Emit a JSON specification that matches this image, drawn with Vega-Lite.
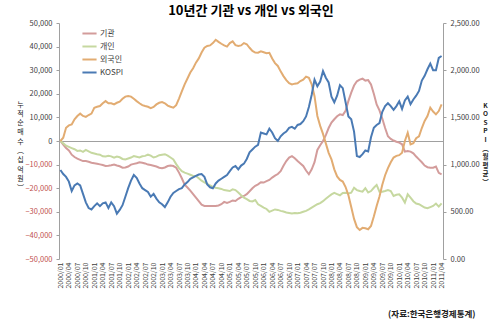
{
  "$schema": "https://vega.github.io/schema/vega-lite/v6.json",
  "width": 384,
  "height": 236,
  "autosize": "none",
  "padding": {"left": 59, "top": 23, "right": 57, "bottom": 68},
  "background": "white",
  "config": {
    "font": "Noto Sans CJK KR",
    "view": {"stroke": null},
    "axisLeft": {"titleAngle": 0},
    "axisRight": {"titleAngle": 0},
    "axisY": {"titleAngle": 0}
  },
  "title": {
    "text": "10년간 기관 vs 개인 vs 외국인",
    "fontSize": 13,
    "fontWeight": "bold",
    "color": "#000000",
    "anchor": "middle",
    "offset": 1
  },
  "data": {
    "values": [
      {"month":"2000/01","기관":0,"개인":0,"외국인":0,"KOSPI":943},
      {"month":"2000/02","기관":-1500,"개인":-1000,"외국인":1400,"KOSPI":900},
      {"month":"2000/03","기관":-3000,"개인":-2000,"외국인":5600,"KOSPI":870},
      {"month":"2000/04","기관":-4000,"개인":-2500,"외국인":6600,"KOSPI":820},
      {"month":"2000/05","기관":-5800,"개인":-3000,"외국인":7000,"KOSPI":720},
      {"month":"2000/06","기관":-6800,"개인":-3500,"외국인":9200,"KOSPI":780},
      {"month":"2000/07","기관":-7500,"개인":-4200,"외국인":10600,"KOSPI":800},
      {"month":"2000/08","기관":-8000,"개인":-4000,"외국인":11600,"KOSPI":780},
      {"month":"2000/09","기관":-8500,"개인":-4600,"외국인":10600,"KOSPI":690},
      {"month":"2000/10","기관":-8500,"개인":-3800,"외국인":10200,"KOSPI":600},
      {"month":"2000/11","기관":-8800,"개인":-4400,"외국인":11000,"KOSPI":540},
      {"month":"2000/12","기관":-9200,"개인":-5000,"외국인":11600,"KOSPI":525},
      {"month":"2001/01","기관":-9400,"개인":-5300,"외국인":14100,"KOSPI":560},
      {"month":"2001/02","기관":-9600,"개인":-5600,"외국인":14500,"KOSPI":590},
      {"month":"2001/03","기관":-9900,"개인":-5800,"외국인":14800,"KOSPI":560},
      {"month":"2001/04","기관":-10200,"개인":-6500,"외국인":16000,"KOSPI":590},
      {"month":"2001/05","기관":-10600,"개인":-6600,"외국인":16900,"KOSPI":600},
      {"month":"2001/06","기관":-10500,"개인":-6300,"외국인":16000,"KOSPI":540},
      {"month":"2001/07","기관":-10300,"개인":-6500,"외국인":16000,"KOSPI":600},
      {"month":"2001/08","기관":-10000,"개인":-7100,"외국인":15500,"KOSPI":560},
      {"month":"2001/09","기관":-10400,"개인":-6600,"외국인":16200,"KOSPI":480},
      {"month":"2001/10","기관":-10700,"개인":-6900,"외국인":16700,"KOSPI":520},
      {"month":"2001/11","기관":-11300,"개인":-7600,"외국인":17900,"KOSPI":570},
      {"month":"2001/12","기관":-11200,"개인":-7800,"외국인":18800,"KOSPI":660},
      {"month":"2002/01","기관":-10800,"개인":-7400,"외국인":19100,"KOSPI":750},
      {"month":"2002/02","기관":-10000,"개인":-7000,"외국인":18800,"KOSPI":830},
      {"month":"2002/03","기관":-9700,"개인":-6400,"외국인":17900,"KOSPI":890},
      {"month":"2002/04","기관":-9400,"개인":-6700,"외국인":16900,"KOSPI":860},
      {"month":"2002/05","기관":-9000,"개인":-7000,"외국인":16000,"KOSPI":800},
      {"month":"2002/06","기관":-9200,"개인":-6500,"외국인":15200,"KOSPI":750},
      {"month":"2002/07","기관":-9500,"개인":-6300,"외국인":14800,"KOSPI":730},
      {"month":"2002/08","기관":-10000,"개인":-5800,"외국인":14500,"KOSPI":710},
      {"month":"2002/09","기관":-10200,"개인":-6200,"외국인":13900,"KOSPI":660},
      {"month":"2002/10","기관":-10500,"개인":-7000,"외국인":14400,"KOSPI":690},
      {"month":"2002/11","기관":-10800,"개인":-6600,"외국인":15500,"KOSPI":640},
      {"month":"2002/12","기관":-11300,"개인":-6000,"외국인":16200,"KOSPI":600},
      {"month":"2003/01","기관":-11500,"개인":-5800,"외국인":16500,"KOSPI":580},
      {"month":"2003/02","기관":-11200,"개인":-5600,"외국인":16000,"KOSPI":550},
      {"month":"2003/03","기관":-10600,"개인":-6200,"외국인":15000,"KOSPI":600},
      {"month":"2003/04","기관":-10400,"개인":-7000,"외국인":14500,"KOSPI":660},
      {"month":"2003/05","기관":-10600,"개인":-7800,"외국인":14100,"KOSPI":700},
      {"month":"2003/06","기관":-11300,"개인":-9800,"외국인":15200,"KOSPI":720},
      {"month":"2003/07","기관":-13400,"개인":-11500,"외국인":18000,"KOSPI":740},
      {"month":"2003/08","기관":-15800,"개인":-12800,"외국인":21000,"KOSPI":750},
      {"month":"2003/09","기관":-18500,"개인":-13400,"외국인":24000,"KOSPI":790},
      {"month":"2003/10","기관":-19700,"개인":-13800,"외국인":26500,"KOSPI":815},
      {"month":"2003/11","기관":-21000,"개인":-14300,"외국인":29000,"KOSPI":850},
      {"month":"2003/12","기관":-22500,"개인":-14800,"외국인":30800,"KOSPI":865},
      {"month":"2004/01","기관":-24000,"개인":-14800,"외국인":33200,"KOSPI":880},
      {"month":"2004/02","기관":-25500,"개인":-15800,"외국인":35000,"KOSPI":895},
      {"month":"2004/03","기관":-27000,"개인":-16800,"외국인":37500,"KOSPI":900},
      {"month":"2004/04","기관":-27500,"개인":-17500,"외국인":39500,"KOSPI":870},
      {"month":"2004/05","기관":-27500,"개인":-18200,"외국인":40300,"KOSPI":790},
      {"month":"2004/06","기관":-27500,"개인":-18800,"외국인":40500,"KOSPI":760},
      {"month":"2004/07","기관":-27500,"개인":-19400,"외국인":41500,"KOSPI":750},
      {"month":"2004/08","기관":-27500,"개인":-19800,"외국인":42900,"KOSPI":800},
      {"month":"2004/09","기관":-27300,"개인":-20000,"외국인":42000,"KOSPI":830},
      {"month":"2004/10","기관":-26800,"개인":-20300,"외국인":41200,"KOSPI":850},
      {"month":"2004/11","기관":-25800,"개인":-20800,"외국인":40500,"KOSPI":870},
      {"month":"2004/12","기관":-26200,"개인":-21000,"외국인":40000,"KOSPI":890},
      {"month":"2005/01","기관":-25800,"개인":-21200,"외국인":41500,"KOSPI":930},
      {"month":"2005/02","기관":-25200,"개인":-20500,"외국인":42200,"KOSPI":970},
      {"month":"2005/03","기관":-25400,"개인":-20800,"외국인":40600,"KOSPI":985},
      {"month":"2005/04","기관":-24500,"개인":-21800,"외국인":40300,"KOSPI":950},
      {"month":"2005/05","기관":-23800,"개인":-23000,"외국인":40500,"KOSPI":990},
      {"month":"2005/06","기관":-23300,"개인":-24000,"외국인":41500,"KOSPI":1010},
      {"month":"2005/07","기관":-22500,"개인":-24600,"외국인":41000,"KOSPI":1060},
      {"month":"2005/08","기관":-21300,"개인":-25400,"외국인":39500,"KOSPI":1130},
      {"month":"2005/09","기관":-20000,"개인":-25600,"외국인":38200,"KOSPI":1160},
      {"month":"2005/10","기관":-19000,"개인":-25000,"외국인":37500,"KOSPI":1190},
      {"month":"2005/11","기관":-18400,"개인":-26800,"외국인":37400,"KOSPI":1210},
      {"month":"2005/12","기관":-17500,"개인":-27500,"외국인":38000,"KOSPI":1340},
      {"month":"2006/01","기관":-17600,"개인":-28200,"외국인":37600,"KOSPI":1330},
      {"month":"2006/02","기관":-17000,"개인":-28800,"외국인":37200,"KOSPI":1320},
      {"month":"2006/03","기관":-16500,"개인":-30000,"외국인":37400,"KOSPI":1380},
      {"month":"2006/04","기관":-15500,"개인":-29500,"외국인":35000,"KOSPI":1340},
      {"month":"2006/05","기관":-14700,"개인":-29000,"외국인":33000,"KOSPI":1280},
      {"month":"2006/06","기관":-14000,"개인":-29200,"외국인":31800,"KOSPI":1250},
      {"month":"2006/07","기관":-12800,"개인":-29600,"외국인":29500,"KOSPI":1300},
      {"month":"2006/08","기관":-10500,"개인":-29900,"외국인":27500,"KOSPI":1330},
      {"month":"2006/09","기관":-8500,"개인":-30300,"외국인":25800,"KOSPI":1350},
      {"month":"2006/10","기관":-7000,"개인":-30500,"외국인":24500,"KOSPI":1390},
      {"month":"2006/11","기관":-6400,"개인":-30700,"외국인":24000,"KOSPI":1400},
      {"month":"2006/12","기관":-7300,"개인":-30500,"외국인":24300,"KOSPI":1380},
      {"month":"2007/01","기관":-8500,"개인":-30600,"외국인":24500,"KOSPI":1420},
      {"month":"2007/02","기관":-9500,"개인":-30400,"외국인":25400,"KOSPI":1430},
      {"month":"2007/03","기관":-10600,"개인":-30000,"외국인":26000,"KOSPI":1460},
      {"month":"2007/04","기관":-12500,"개인":-29600,"외국인":27300,"KOSPI":1510},
      {"month":"2007/05","기관":-14100,"개인":-29000,"외국인":26800,"KOSPI":1610},
      {"month":"2007/06","기관":-12000,"개인":-28200,"외국인":24000,"KOSPI":1740},
      {"month":"2007/07","기관":-9000,"개인":-27500,"외국인":19000,"KOSPI":1900},
      {"month":"2007/08","기관":-3800,"개인":-26800,"외국인":10600,"KOSPI":1830},
      {"month":"2007/09","기관":-1800,"개인":-26300,"외국인":6400,"KOSPI":1880},
      {"month":"2007/10","기관":0,"개인":-25500,"외국인":3000,"KOSPI":1990},
      {"month":"2007/11","기관":2500,"개인":-24500,"외국인":-1000,"KOSPI":1920},
      {"month":"2007/12","기관":5500,"개인":-23500,"외국인":-5000,"KOSPI":1870},
      {"month":"2008/01","기관":7800,"개인":-22600,"외국인":-7800,"KOSPI":1720},
      {"month":"2008/02","기관":9200,"개인":-22000,"외국인":-12000,"KOSPI":1660},
      {"month":"2008/03","기관":10500,"개인":-22500,"외국인":-15000,"KOSPI":1730},
      {"month":"2008/04","기관":11300,"개인":-23000,"외국인":-16500,"KOSPI":1840},
      {"month":"2008/05","기관":11000,"개인":-22000,"외국인":-17200,"KOSPI":1810},
      {"month":"2008/06","기관":12800,"개인":-21900,"외국인":-19500,"KOSPI":1660},
      {"month":"2008/07","기관":17000,"개인":-22200,"외국인":-23000,"KOSPI":1510},
      {"month":"2008/08","기관":20500,"개인":-21900,"외국인":-28000,"KOSPI":1480},
      {"month":"2008/09","기관":23500,"개인":-19800,"외국인":-33000,"KOSPI":1350},
      {"month":"2008/10","기관":25300,"개인":-20800,"외국인":-36500,"KOSPI":1090},
      {"month":"2008/11","기관":26000,"개인":-21200,"외국인":-37700,"KOSPI":1080},
      {"month":"2008/12","기관":26400,"개인":-21500,"외국인":-36800,"KOSPI":1110},
      {"month":"2009/01","기관":25600,"개인":-20000,"외국인":-37000,"KOSPI":1150},
      {"month":"2009/02","기관":25800,"개인":-21800,"외국인":-37400,"KOSPI":1140},
      {"month":"2009/03","기관":24000,"개인":-21200,"외국인":-36000,"KOSPI":1290},
      {"month":"2009/04","기관":20000,"개인":-19800,"외국인":-32000,"KOSPI":1390},
      {"month":"2009/05","기관":15500,"개인":-18600,"외국인":-27500,"KOSPI":1420},
      {"month":"2009/06","기관":13000,"개인":-21500,"외국인":-23500,"KOSPI":1440},
      {"month":"2009/07","기관":9500,"개인":-21500,"외국인":-18500,"KOSPI":1560},
      {"month":"2009/08","기관":5500,"개인":-21200,"외국인":-14500,"KOSPI":1620},
      {"month":"2009/09","기관":2000,"개인":-20800,"외국인":-11500,"KOSPI":1650},
      {"month":"2009/10","기관":900,"개인":-21200,"외국인":-9000,"KOSPI":1620},
      {"month":"2009/11","기관":200,"개인":-23300,"외국인":-7000,"KOSPI":1580},
      {"month":"2009/12","기관":-300,"개인":-22800,"외국인":-6300,"KOSPI":1620},
      {"month":"2010/01","기관":-700,"개인":-22600,"외국인":-6000,"KOSPI":1670},
      {"month":"2010/02","기관":-1400,"개인":-24000,"외국인":-5000,"KOSPI":1590},
      {"month":"2010/03","기관":-4500,"개인":-26100,"외국인":0,"KOSPI":1680},
      {"month":"2010/04","기관":-4200,"개인":-22600,"외국인":3500,"KOSPI":1720},
      {"month":"2010/05","기관":-4500,"개인":-24000,"외국인":-1400,"KOSPI":1640},
      {"month":"2010/06","기관":-5200,"개인":-25500,"외국인":-900,"KOSPI":1690},
      {"month":"2010/07","기관":-6600,"개인":-26500,"외국인":1200,"KOSPI":1730},
      {"month":"2010/08","기관":-7800,"개인":-26800,"외국인":2000,"KOSPI":1780},
      {"month":"2010/09","기관":-9000,"개인":-27500,"외국인":5500,"KOSPI":1890},
      {"month":"2010/10","기관":-10400,"개인":-28200,"외국인":8500,"KOSPI":1940},
      {"month":"2010/11","기관":-11100,"개인":-28500,"외국인":10600,"KOSPI":2010},
      {"month":"2010/12","기관":-11300,"개인":-28000,"외국인":14100,"KOSPI":2070},
      {"month":"2011/01","기관":-11300,"개인":-27500,"외국인":12500,"KOSPI":2000},
      {"month":"2011/02","기관":-10800,"개인":-26500,"외국인":11300,"KOSPI":2000},
      {"month":"2011/03","기관":-13500,"개인":-27800,"외국인":12700,"KOSPI":2130},
      {"month":"2011/04","기관":-14100,"개인":-26400,"외국인":15500,"KOSPI":2150}
    ]
  },
  "encoding": {
    "x": {
      "field": "month",
      "type": "ordinal",
      "sort": null,
      "scale": {"type": "point", "padding": 0.5},
      "axis": {
        "values": ["2000/01","2000/04","2000/07","2000/10","2001/01","2001/04","2001/07","2001/10","2002/01","2002/04","2002/07","2002/10","2003/01","2003/04","2003/07","2003/10","2004/01","2004/04","2004/07","2004/10","2005/01","2005/04","2005/07","2005/10","2006/01","2006/04","2006/07","2006/10","2007/01","2007/04","2007/07","2007/10","2008/01","2008/04","2008/07","2008/10","2009/01","2009/04","2009/07","2009/10","2010/01","2010/04","2010/07","2010/10","2011/01","2011/04"],
        "labelAngle": 270,
        "labelFontSize": 7,
        "labelColor": "#404040",
        "labelPadding": 3,
        "ticks": false,
        "domain": false,
        "grid": false,
        "title": "(자료:한국은행경제통계)",
        "titleFontSize": 8.5,
        "titleFontWeight": "bold",
        "titleColor": "#202020",
        "titleAnchor": "end",
        "titleAlign": "right",
        "titleBaseline": "middle",
        "titleX": 416,
        "titleY": 54
      }
    }
  },
  "layer": [
    {
      "transform": [{"fold": ["기관", "개인", "외국인"], "as": ["series", "value"]}],
      "mark": {"type": "line", "strokeWidth": 2, "interpolate": "linear"},
      "encoding": {
        "y": {
          "field": "value",
          "type": "quantitative",
          "scale": {"domain": [-50000, 50000], "nice": false, "zero": false},
          "axis": {
            "values": [-50000, -40000, -30000, -20000, -10000, 0, 10000, 20000, 30000, 40000, 50000],
            "format": ",.0f",
            "labelFontSize": 7.5,
            "labelColor": {"condition": {"test": "datum.value < 0", "value": "#C0504D"}, "value": "#404040"},
            "labelPadding": 4,
            "tickSize": 3,
            "tickColor": "#A0A0A0",
            "domainColor": "#A0A0A0",
            "grid": true,
            "gridColor": "#A0A0A0",
            "gridWidth": 1,
            "gridOpacity": {"condition": {"test": "datum.value === 0", "value": 1}, "value": 0},
            "title": ["누", "적", "순", "매", "수", "︵", "십", "억", "원", "︶"],
            "titleAngle": 0,
            "titleFontSize": 7,
            "titleFontWeight": "normal",
            "titleColor": "#202020",
            "titleLineHeight": 9.3,
            "titleAlign": "center",
            "titleBaseline": "top",
            "titleX": -39,
            "titleY": 77
          }
        },
        "color": {
          "field": "series",
          "type": "nominal",
          "scale": {
            "domain": ["기관", "개인", "외국인", "KOSPI"],
            "range": ["#D39C9B", "#C6D8A0", "#E2AC72", "#4A7AB4"]
          },
          "legend": {
            "orient": "none",
            "legendX": 22,
            "legendY": 2,
            "title": null,
            "symbolType": "stroke",
            "symbolStrokeWidth": 2,
            "symbolSize": 200,
            "labelFontSize": 8,
            "labelColor": "#404040",
            "rowPadding": 0,
            "labelOffset": 2
          }
        }
      }
    },
    {
      "mark": {"type": "line", "strokeWidth": 2, "interpolate": "linear"},
      "encoding": {
        "y": {
          "field": "KOSPI",
          "type": "quantitative",
          "scale": {"domain": [0, 2500], "nice": false},
          "axis": {
            "orient": "right",
            "values": [0, 500, 1000, 1500, 2000, 2500],
            "format": ",.2f",
            "labelFontSize": 7.5,
            "labelColor": "#404040",
            "labelPadding": 4,
            "tickSize": 3,
            "tickColor": "#A0A0A0",
            "domainColor": "#A0A0A0",
            "grid": false,
            "title": ["K", "O", "S", "P", "I", "︵", "월", "평", "균", "︶"],
            "titleAngle": 0,
            "titleFontSize": 6.5,
            "titleFontWeight": "bold",
            "titleColor": "#202020",
            "titleLineHeight": 8.6,
            "titleAlign": "center",
            "titleBaseline": "top",
            "titleX": 42,
            "titleY": 79
          }
        },
        "color": {"datum": "KOSPI"}
      }
    }
  ],
  "resolve": {"scale": {"y": "independent"}}
}
